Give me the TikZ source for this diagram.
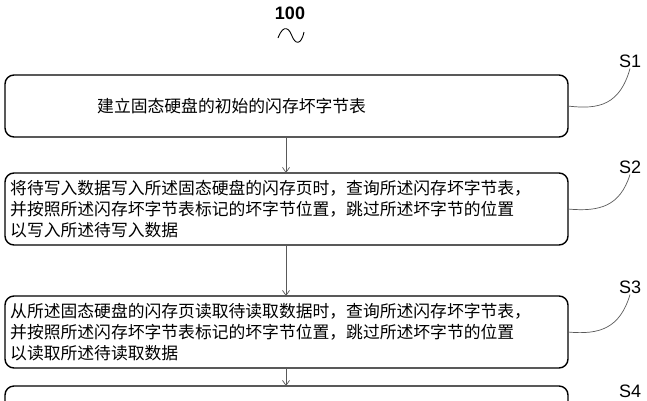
\documentclass[tikz,border=0pt]{standalone}
\usetikzlibrary{arrows.meta}
\usepackage{fontspec}
\newfontfamily\cjk{Noto Sans CJK SC}
\setsansfont{Liberation Sans}
\begin{document}
\begin{tikzpicture}[x=1pt,y=-1pt,
  boxs/.style={draw,line width=1.4pt,rounded corners=9pt},
  txt/.style={font=\cjk\fontsize{16.8}{21}\selectfont,align=left,anchor=west,inner sep=0},
  lab/.style={font=\sffamily\fontsize{18}{18}\selectfont,inner sep=1pt},
  lead/.style={draw=gray!70!black,line width=0.7pt},
  arr/.style={draw=gray!70!black,line width=0.7pt,-{Straight Barb[length=5pt,width=7pt]}}]
\useasboundingbox (0,0) rectangle (647,400);
\node[lab] (n100) at (290,13) {\bfseries 100};
\draw[line width=0.9pt] (278,38) .. controls (284,22) and (290,30) .. (292,36) .. controls (295,44) and (301,46) .. (304,32);
\draw[boxs] (5,75) rectangle (568,137);
\coordinate (b1t) at (286,75); \coordinate (b1b) at (286,137); \coordinate (b1r) at (568,106);
\node[txt] (t1) at (97,106) {建立固态硬盘的初始的闪存坏字节表};
\draw[boxs] (5,173) rectangle (568,245);
\coordinate (b2t) at (286,173); \coordinate (b2b) at (286,245); \coordinate (b2r) at (568,209);
\node[txt] (t2) at (10,209) {将待写入数据写入所述固态硬盘的闪存页时，查询所述闪存坏字节表，\\并按照所述闪存坏字节表标记的坏字节位置，跳过所述坏字节的位置\\以写入所述待写入数据};
\draw[boxs] (5,296) rectangle (568,368);
\coordinate (b3t) at (286,296); \coordinate (b3b) at (286,368); \coordinate (b3r) at (568,332);
\node[txt] (t3) at (10,332) {从所述固态硬盘的闪存页读取待读取数据时，查询所述闪存坏字节表，\\并按照所述闪存坏字节表标记的坏字节位置，跳过所述坏字节的位置\\以读取所述待读取数据};
\draw[boxs] (5,430) -- (5,386) -- (568,386) -- (568,430);
\coordinate (b4t) at (286,386);
\node[lab] (s1) at (630,61) {S1};
\node[lab] (s2) at (630,167) {S2};
\node[lab] (s3) at (630,287) {S3};
\node[lab] (s4) at (630,391) {S4};
\draw[lead] (b1r) .. controls (600,110) and (620,104) .. (s1.south);
\draw[lead] (b2r) .. controls (600,212) and (620,206) .. (s2.south);
\draw[lead] (b3r) .. controls (600,335) and (620,328) .. (s3.south);
\draw[arr] (b1b) -- (b2t);
\draw[arr] (b2b) -- (b3t);
\draw[arr] (b3b) -- (b4t);
\end{tikzpicture}
\end{document}
